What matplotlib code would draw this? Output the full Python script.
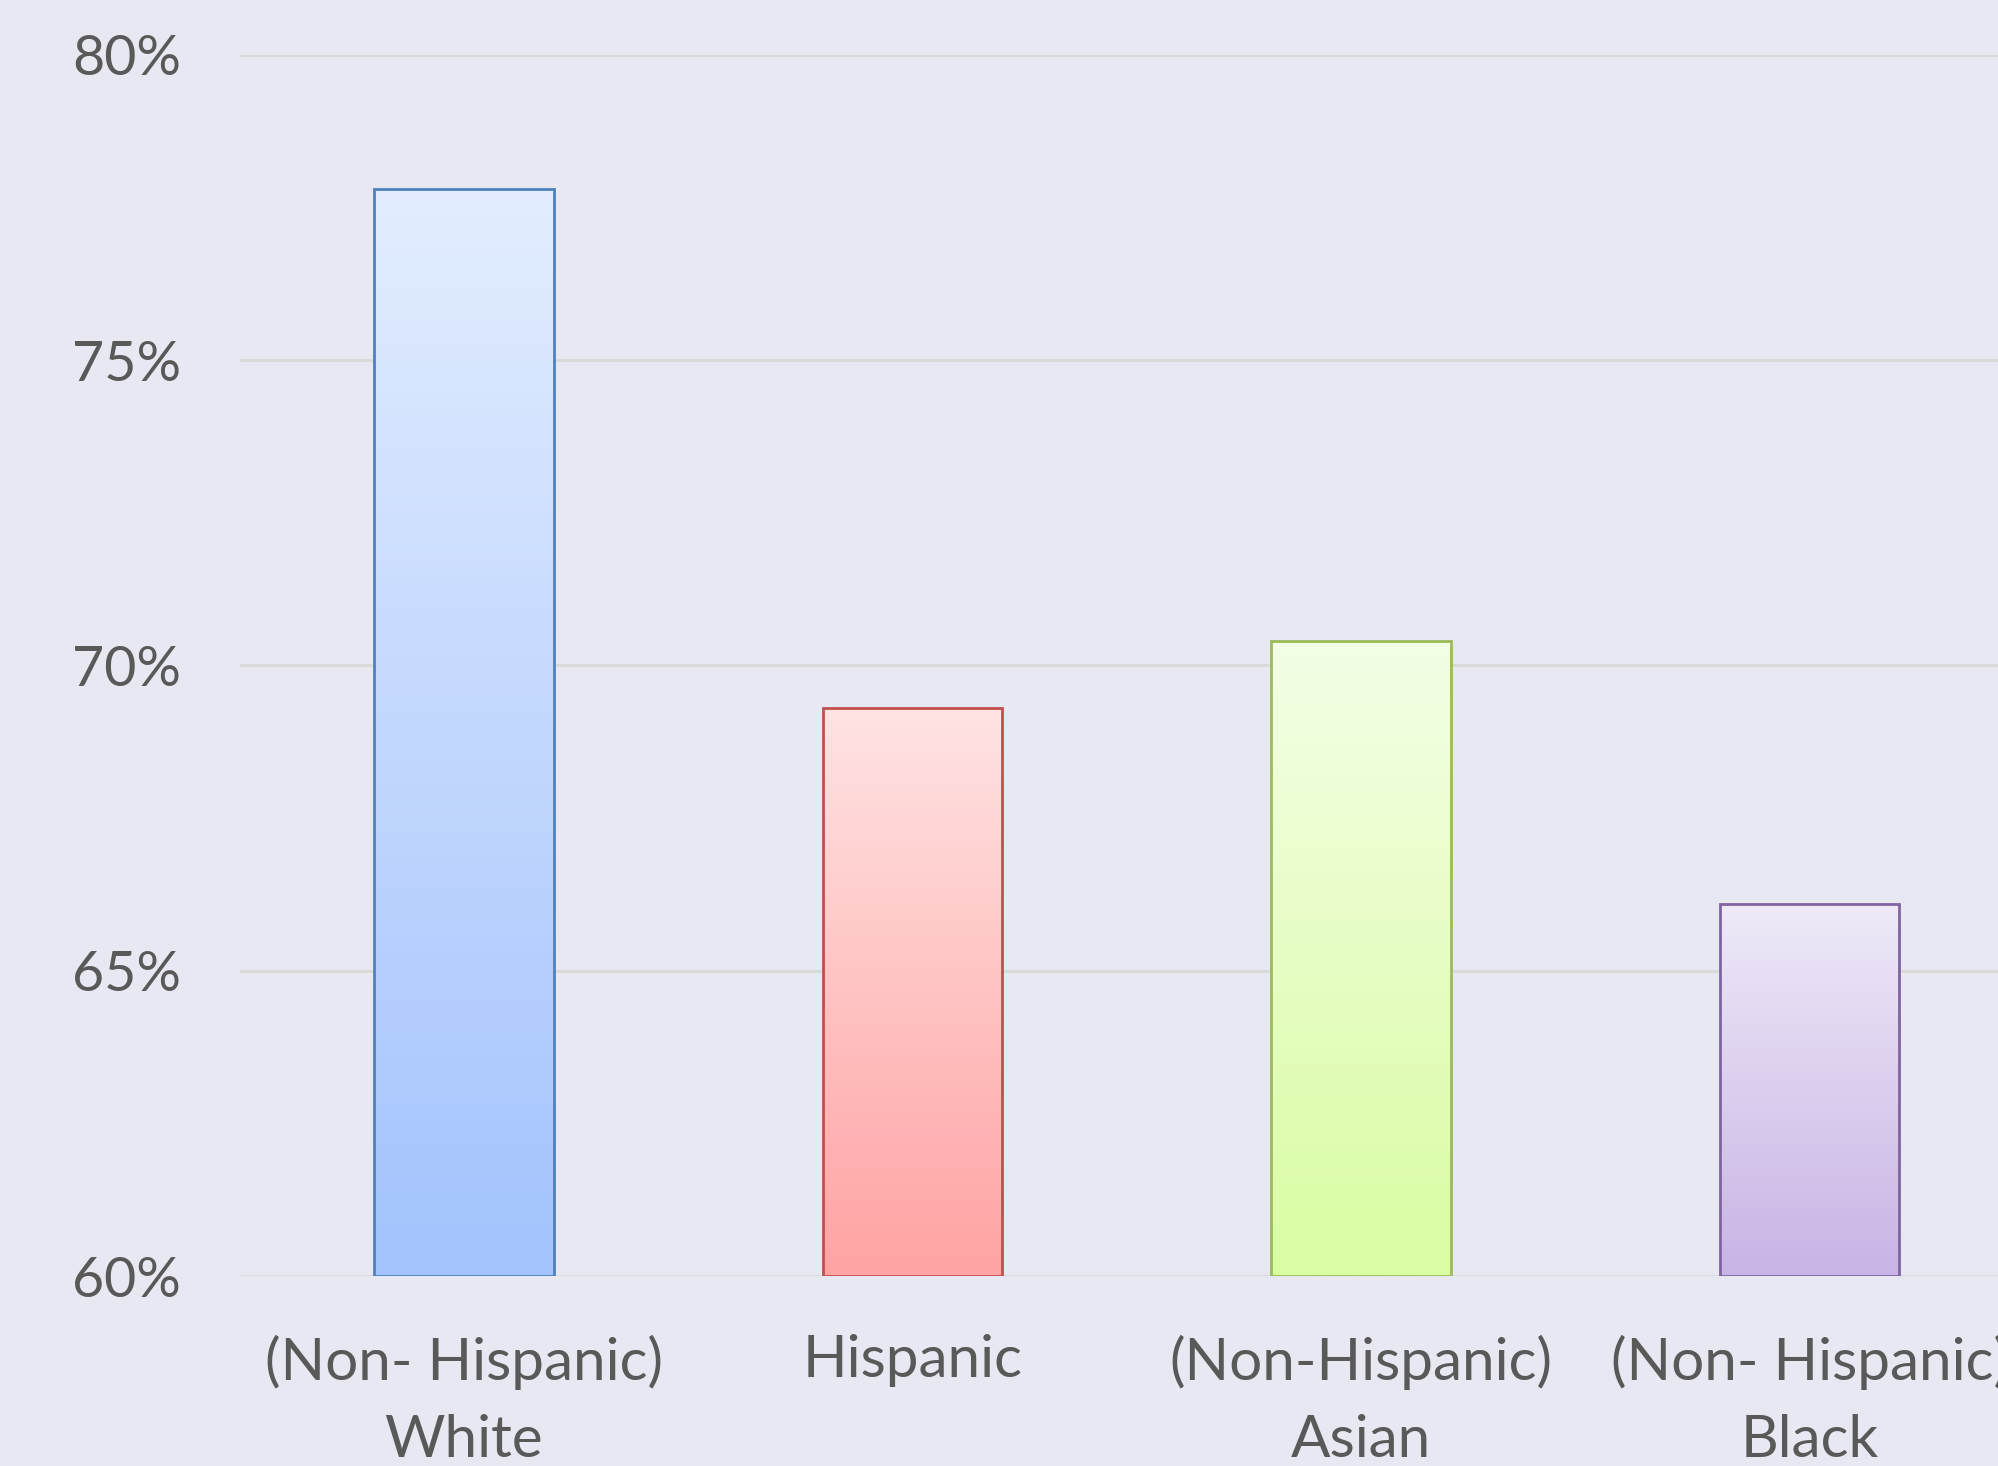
#!/usr/bin/env python3
"""Share by race/ethnicity, bar chart with gradient-filled bars."""

import matplotlib
matplotlib.use("Agg")
import matplotlib.pyplot as plt
import numpy as np
from matplotlib.colors import LinearSegmentedColormap
from matplotlib.ticker import FuncFormatter

categories = ["(Non- Hispanic)\nWhite", "Hispanic", "(Non-Hispanic)\nAsian", "(Non- Hispanic)\nBlack"]
values = [77.8, 69.3, 70.4, 66.1]
y_ticks = [60, 65, 70, 75, 80]

top_colors = ["#E3EDFF", "#FFE3E3", "#F3FFE6", "#EFE9F8"]
bottom_colors = ["#A3C3FD", "#FFA3A3", "#DAFCA2", "#C8B4E5"]
edge_colors = ["#4F81BD", "#C0504D", "#9BBB59", "#8064A2"]

TEXT = "#595959"
BG = "#E8E8F2"

plt.rcParams["font.family"] = ["Lato", "DejaVu Sans"]

fig = plt.figure(figsize=(19.98, 14.66), dpi=100)
fig.patch.set_facecolor(BG)
ax = fig.add_axes([0.1199, 0.1296, 0.8801, 0.8329])
ax.set_facecolor(BG)

x = np.arange(len(categories))
bars = ax.bar(x, [v - 60 for v in values], bottom=60, width=0.4,
              facecolor="none", edgecolor=edge_colors, linewidth=2, zorder=4)

# vertical gradient inside each bar
grad = np.linspace(1, 0, 256).reshape(-1, 1)
for bar, top, bot in zip(bars, top_colors, bottom_colors):
    cmap = LinearSegmentedColormap.from_list("g", [bot, top])
    x0, y0 = bar.get_x(), bar.get_y()
    ax.imshow(grad, cmap=cmap, aspect="auto", zorder=3,
              extent=(x0, x0 + bar.get_width(), y0, y0 + bar.get_height()))
ax.set_xlim(-0.5, 3.42)
ax.set_ylim(60, 80)

ax.set_yticks(y_ticks)
ax.yaxis.set_major_formatter(FuncFormatter(lambda v, _: f"{v:.0f}%"))
ax.set_xticks(x)
ax.set_xticklabels(categories, linespacing=1.58, fontsize=42)
ax.tick_params(axis="y", length=0, labelsize=40, colors=TEXT, pad=42)
ax.tick_params(axis="x", length=0, colors=TEXT, pad=42)

ax.grid(axis="y", color="#D9D9D9", linewidth=2, zorder=1)
ax.set_axisbelow(True)
for spine in ax.spines.values():
    spine.set_visible(False)

fig.savefig("out.png", dpi=100, facecolor=BG)
